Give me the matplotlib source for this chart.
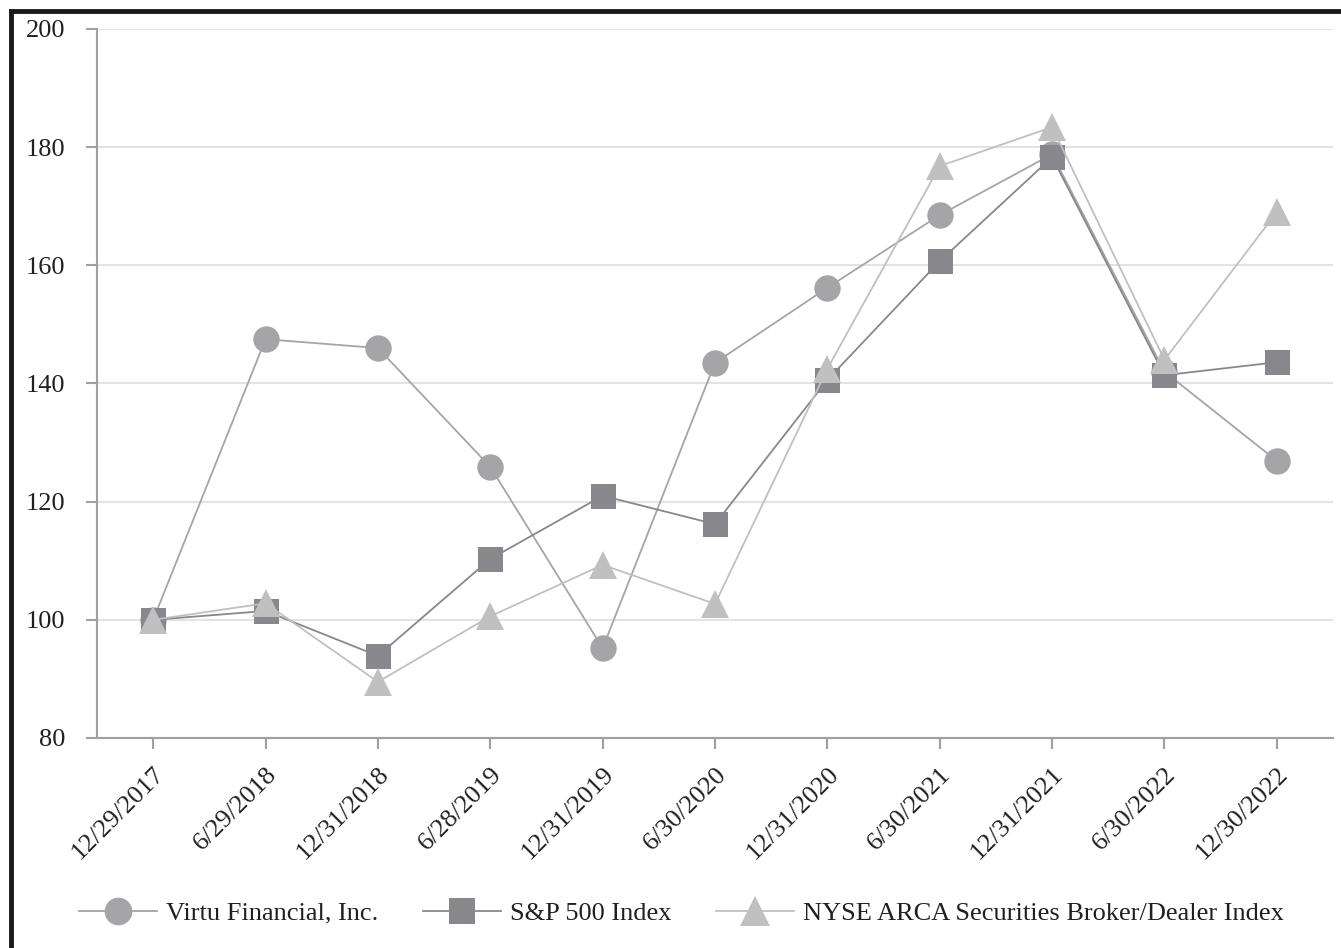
import matplotlib
matplotlib.use("Agg")
import matplotlib.pyplot as plt
from matplotlib.lines import Line2D

# --- données ---
dates = ["12/29/2017", "6/29/2018", "12/31/2018", "6/28/2019", "12/31/2019",
         "6/30/2020", "12/31/2020", "6/30/2021", "12/31/2021", "6/30/2022",
         "12/30/2022"]
virtu = [100, 147.5, 146.0, 125.9, 95.2, 143.5, 156.2, 168.5, 178.8, 142.0, 126.9]
sp500 = [100, 101.5, 93.9, 110.3, 121.0, 116.2, 140.6, 160.7, 178.3, 141.4, 143.6]
nyse_arca = [100, 102.8, 89.5, 100.6, 109.3, 102.7, 142.5, 176.8, 183.4, 144.0, 169.0]
y_ticks = [80, 100, 120, 140, 160, 180, 200]

plt.rcParams['font.family'] = ['Liberation Serif', 'DejaVu Serif']

fig = plt.figure(figsize=(13.41, 9.48), dpi=100)
ax = fig.add_axes([97 / 1341, 1 - 738 / 948, (1333 - 97) / 1341, (738 - 29) / 948])

x = list(range(len(dates)))
ax.plot(x, virtu, color="#a5a5a7", lw=1.3, marker="o", ms=19,
        markeredgewidth=0, label="Virtu Financial, Inc.", zorder=3)
ax.plot(x, sp500, color="#88888c", lw=1.3, marker="s", ms=18,
        markeredgewidth=0, label="S&P 500 Index", zorder=4)
ax.plot(x, nyse_arca, color="#c0c0c0", lw=1.3, marker="^", ms=20,
        markeredgewidth=0, label="NYSE ARCA Securities Broker/Dealer Index", zorder=5)

ax.set_xlim(-0.5, len(dates) - 0.5)
ax.set_ylim(80, 200)
ax.set_yticks(y_ticks)
ax.set_xticks(x)
ax.set_xticklabels(dates, rotation=45, ha="right", rotation_mode="anchor")
ax.tick_params(axis="both", labelsize=19, colors="#a0a0a0", labelcolor="#231f20",
               length=8, width=1.5)
ax.tick_params(axis="x", pad=10)
ax.tick_params(axis="y", pad=15)

ax.grid(axis="y", color="#e3e3e3", lw=1.5)
ax.set_axisbelow(True)
for side in ["top", "right"]:
    ax.spines[side].set_visible(False)
for side in ["left", "bottom"]:
    ax.spines[side].set_color("#a0a0a0")
    ax.spines[side].set_linewidth(1.5)

fig.legend(loc="center", bbox_to_anchor=(0.508, 1 - 913 / 948), ncol=3, frameon=False,
           fontsize=19, handlelength=2.95, columnspacing=1.7, handletextpad=0.34,
           markerscale=1.05)
for t in fig.legends[0].get_texts():
    t.set_color("#231f20")

# bordure noire en haut et à gauche
fig.add_artist(Line2D([11 / 1341, 1], [1 - 11 / 948, 1 - 11 / 948], color="#1a1a1a", lw=3.5))
fig.add_artist(Line2D([11 / 1341, 11 / 1341], [0, 1 - 11 / 948], color="#1a1a1a", lw=3.5))

fig.savefig("out.png", dpi=100)
